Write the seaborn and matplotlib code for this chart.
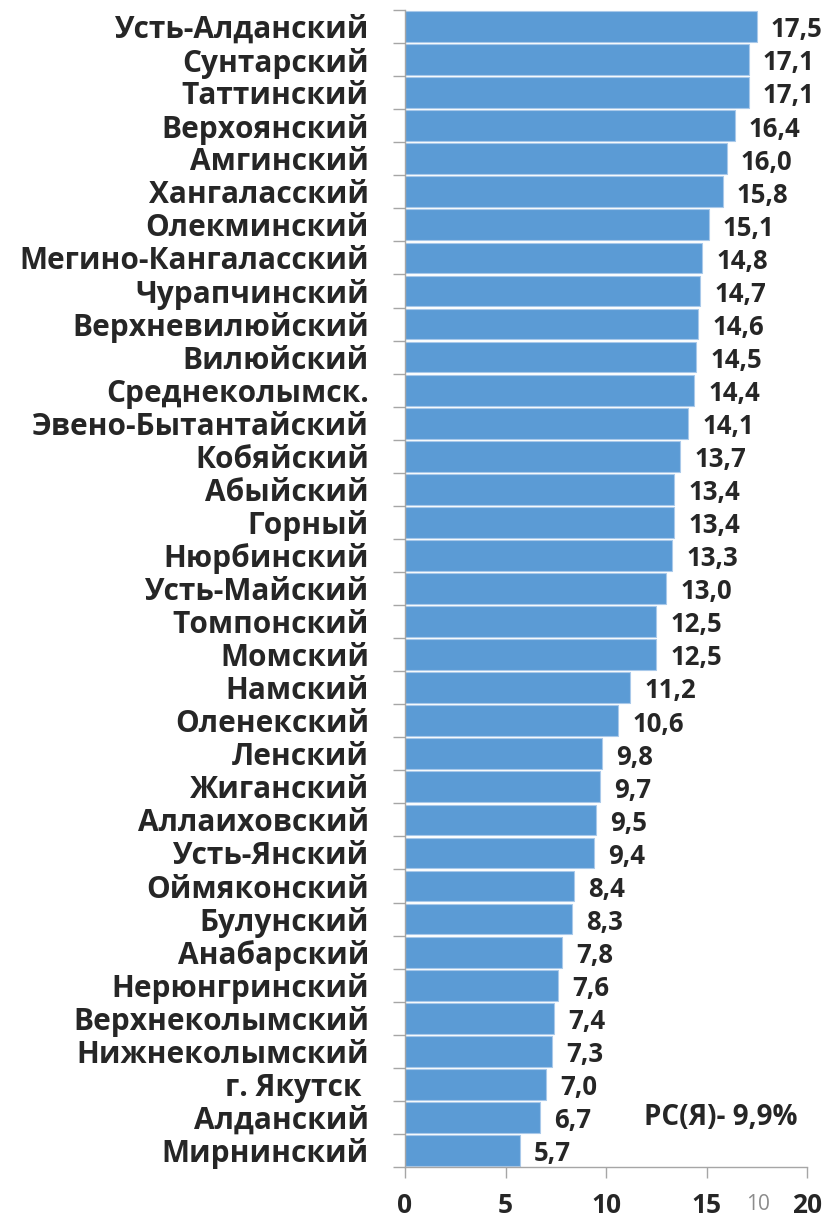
import matplotlib
matplotlib.use("Agg")
import matplotlib.pyplot as plt
import seaborn as sns
import pandas as pd

districts = ["Усть-Алданский", "Сунтарский", "Таттинский", "Верхоянский", "Амгинский",
             "Хангаласский", "Олекминский", "Мегино-Кангаласский", "Чурапчинский",
             "Верхневилюйский", "Вилюйский", "Среднеколымск.", "Эвено-Бытантайский",
             "Кобяйский", "Абыйский", "Горный", "Нюрбинский", "Усть-Майский", "Томпонский",
             "Момский", "Намский", "Оленекский", "Ленский", "Жиганский", "Аллаиховский",
             "Усть-Янский", "Оймяконский", "Булунский", "Анабарский", "Нерюнгринский",
             "Верхнеколымский", "Нижнеколымский", "г. Якутск ", "Алданский", "Мирнинский"]
values = [17.5, 17.1, 17.1, 16.4, 16.0, 15.8, 15.1, 14.8, 14.7, 14.6, 14.5, 14.4, 14.1,
          13.7, 13.4, 13.4, 13.3, 13.0, 12.5, 12.5, 11.2, 10.6, 9.8, 9.7, 9.5, 9.4, 8.4,
          8.3, 7.8, 7.6, 7.4, 7.3, 7.0, 6.7, 5.7]
x_ticks = [0, 5, 10, 15, 20]
note = "РС(Я)- 9,9%"

sns.set_theme(style="white")
plt.rcParams['font.family'] = ['Open Sans', 'DejaVu Sans']

df = pd.DataFrame({"district": districts, "value": values})

fig = plt.figure(figsize=(8.29, 12.21), dpi=100)
ax = fig.add_axes([405/829, 1 - 1167/1221, 402/829, (1167 - 10)/1221])

sns.barplot(data=df, x="value", y="district", orient="h", color="#5B9BD5",
            saturation=1, width=0.93, edgecolor="#A9C9EA", linewidth=0.8, ax=ax)

ax.set_xlim(0, 20)
ax.set_ylim(len(districts) - 0.5, -0.5)
ax.set_xticks(x_ticks)
ax.set_xticklabels([str(t) for t in x_ticks], fontsize=19, fontweight="bold")
for lbl in ax.get_xticklabels():
    lbl.set_verticalalignment("baseline")
ax.set_yticks([i - 0.5 for i in range(len(districts) + 1)], minor=False)
ax.set_yticklabels([])
ax.set_yticks(range(len(districts)), minor=True)
ax.set_yticklabels(districts, minor=True, fontsize=21.5, fontweight="bold")
ax.tick_params(axis="y", which="major", length=9, width=1, color="#A6A6A6", left=True)
ax.tick_params(axis="y", which="minor", length=0, pad=26)
ax.tick_params(axis="x", which="major", length=8, width=1, color="#A6A6A6", bottom=True, pad=25)
ax.set_xlabel("")
ax.set_ylabel("")

for s in ["top", "right"]:
    ax.spines[s].set_visible(False)
for s in ["left", "bottom"]:
    ax.spines[s].set_color("#A6A6A6")
    ax.spines[s].set_linewidth(1)

for i, v in enumerate(values):
    ax.text(v + 0.7, i + 0.1, f"{v:.1f}".replace(".", ","), va="center", ha="left",
            fontsize=18.5, fontweight="bold", clip_on=False)

ax.text(19.55, 33, note, ha="right", va="center", fontsize=20, fontweight="bold")
fig.text(758/829, 1 - 1210/1221, "10", ha="center", va="baseline", fontsize=15, color="#8C8C8C")

fig.savefig("out.png", dpi=100, facecolor="white")
